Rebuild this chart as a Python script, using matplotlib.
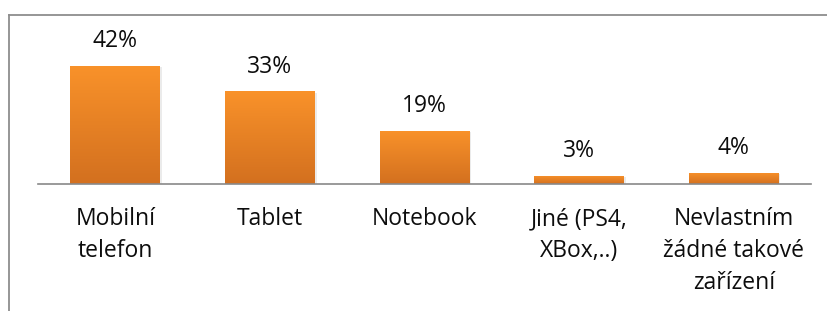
import matplotlib.pyplot as plt
import numpy as np
from matplotlib.colors import LinearSegmentedColormap
from matplotlib.lines import Line2D

plt.rcParams['font.family'] = ['Open Sans', 'DejaVu Sans']

kategorie = ['Mobilní\ntelefon', 'Tablet', 'Notebook', 'Jiné (PS4,\nXBox,..)',
             'Nevlastním\nžádné takové\nzařízení']
hodnoty = [42, 33, 19, 3, 4]
popisky = ['42%', '33%', '19%', '3%', '4%']

W, H = 827, 311
fig = plt.figure(figsize=(W / 100, H / 100), dpi=100)
ax = fig.add_axes([38 / W, 1 - 184 / H, (811 - 38) / W, 168.6 / H])

x = np.arange(len(hodnoty))
barvy = LinearSegmentedColormap.from_list('oranz', ['#d3701f', '#f9922a'])
gradient = np.linspace(0, 1, 256).reshape(-1, 1)

bars = ax.bar(x, hodnoty, width=0.58, color='none', edgecolor='none', zorder=3)
for b in bars:
    x0, w, h = b.get_x(), b.get_width(), b.get_height()
    # stin
    ax.bar(x0 + w / 2 + 0.012, h, width=w, bottom=-0.5, color='#000000',
           alpha=0.08, zorder=2)
    img = ax.imshow(gradient, cmap=barvy, aspect='auto', origin='lower',
                    extent=[x0, x0 + w, 0, h], zorder=3)
    img.set_clip_path(b)

for xi, v, t in zip(x, hodnoty, popisky):
    ax.annotate(t, (xi, v), xytext=(0, 9), textcoords='offset points',
                ha='center', va='bottom', fontsize=16.5, color='#0d0d0d')

ax.set_xlim(-0.5, len(hodnoty) - 0.5)
ax.set_ylim(0, 60)
ax.set_xticks(x)
ax.set_xticklabels(kategorie, fontsize=16.5, linespacing=1.46, color='#0d0d0d')
ax.tick_params(axis='x', length=0, pad=16.5)
ax.set_yticks([])
for s in ['top', 'right', 'left']:
    ax.spines[s].set_visible(False)
ax.spines['bottom'].set_color('#898989')
ax.spines['bottom'].set_linewidth(1.2)
ax.spines['bottom'].set_zorder(4)

# ramecek grafu
fig.add_artist(Line2D([8.5 / W, 8.5 / W], [0, 1 - 14.5 / H], color='#8e8e8e', lw=1.3))
fig.add_artist(Line2D([8.5 / W, 1], [1 - 14.5 / H, 1 - 14.5 / H], color='#8e8e8e', lw=1.3))

fig.savefig('out.png', dpi=100)
